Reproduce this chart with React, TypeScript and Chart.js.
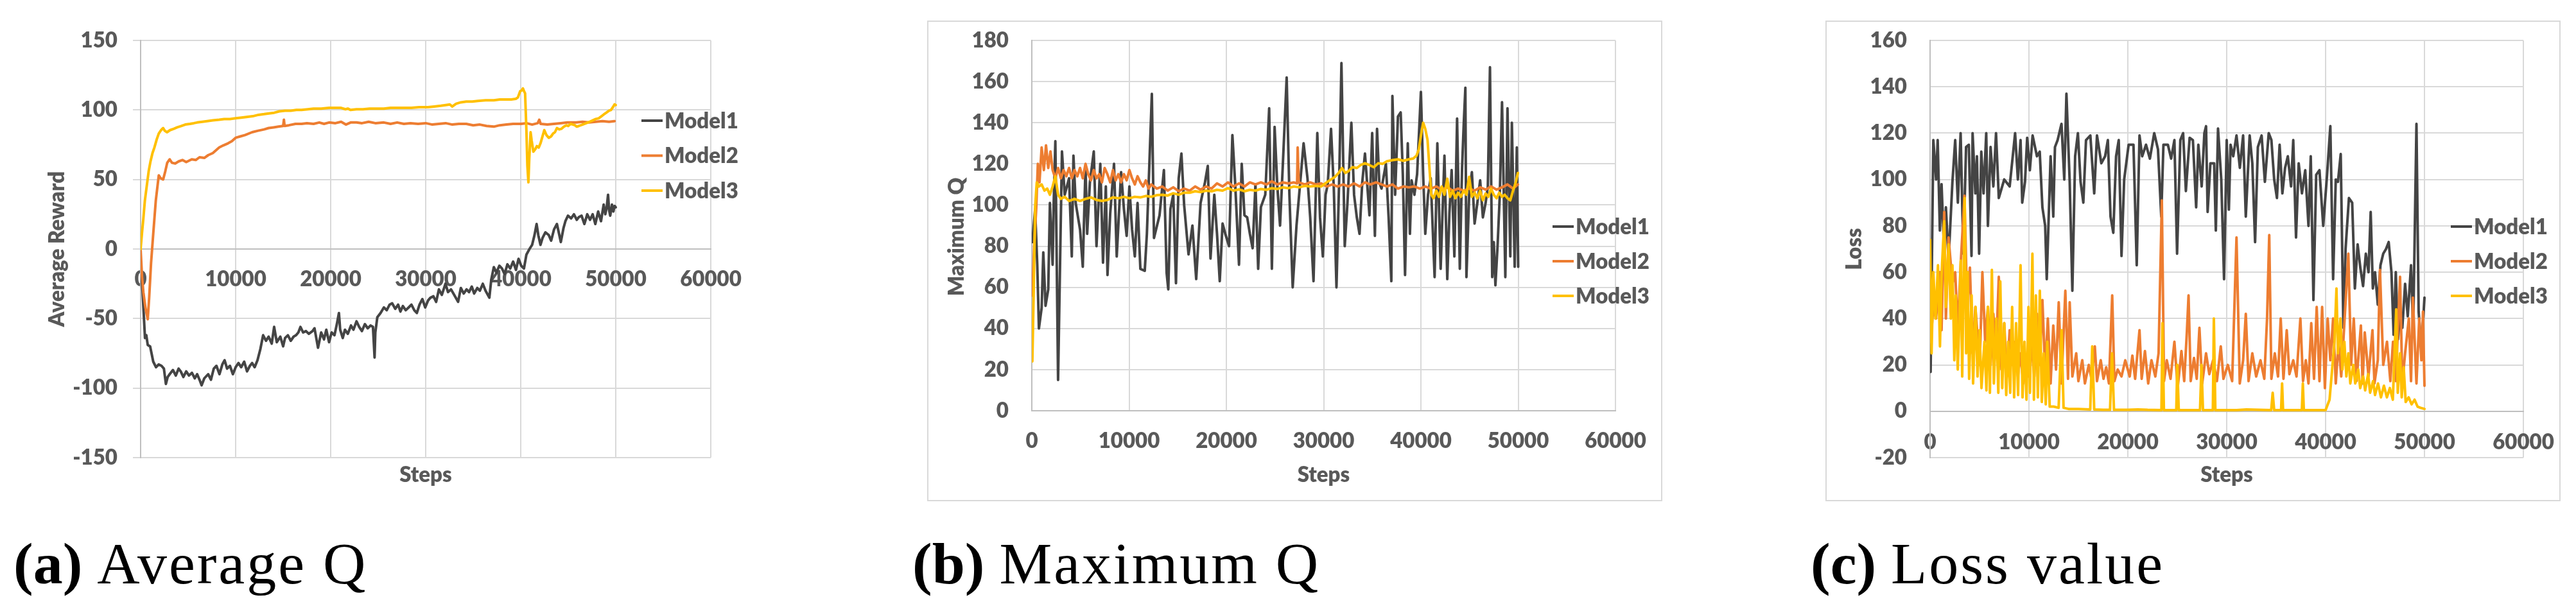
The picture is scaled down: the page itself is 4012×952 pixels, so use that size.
import React, { useEffect, useRef } from 'react';
import { Chart, registerables } from 'chart.js';

Chart.register(...registerables);

type Pt = [number, number];

const SERIES_LABELS = ['Model1', 'Model2', 'Model3'];
const SERIES_COLORS = ['#444444', '#ed7d31', '#ffc000'];
const X_TICK_STEP = 10000;
const X_MAX = 60000;
const TEXT_COLOR = '#595959';
const FONT_FAMILY = 'Lato, "Open Sans", sans-serif';
const FONT_WEIGHT = '800';

// (a) Average Reward
const avgModel1: Pt[] = [[0,-14],[200,-30],[460,-64],[600,-62],[750,-69],[1000,-70],[1330,-81],[1620,-85],[1900,-83],[2200,-84],[2450,-86],[2660,-97],[2850,-92],[3060,-90],[3400,-87],[3700,-91],[4000,-86],[4220,-88],[4500,-92],[4800,-88],[5090,-91],[5400,-89],[5700,-93],[5950,-90],[6200,-94],[6420,-98],[6700,-93],[7110,-90],[7400,-94],[7700,-86],[7980,-84],[8300,-90],[8600,-83],[8840,-80],[9100,-86],[9400,-84],[9710,-90],[10000,-85],[10300,-82],[10580,-85],[10900,-81],[11200,-88],[11500,-84],[11730,-82],[12000,-85],[12300,-80],[12600,-72],[12890,-62],[13200,-66],[13470,-63],[13800,-68],[14050,-56],[14330,-67],[14700,-63],[15000,-70],[15200,-64],[15500,-62],[15800,-66],[16100,-63],[16360,-62],[16600,-60],[16820,-56],[17100,-60],[17400,-59],[17700,-61],[18090,-59],[18300,-57],[18670,-71],[19000,-60],[19300,-65],[19540,-58],[19830,-67],[20100,-60],[20400,-62],[20650,-54],[20870,-46],[21000,-58],[21270,-64],[21500,-58],[21800,-61],[22140,-55],[22400,-58],[22720,-52],[23000,-56],[23290,-59],[23600,-54],[23900,-57],[24200,-55],[24450,-56],[24620,-78],[24700,-60],[24910,-49],[25250,-46],[25600,-42],[25900,-44],[26200,-40],[26470,-39],[26800,-43],[27100,-40],[27340,-45],[27600,-41],[27900,-44],[28210,-42],[28500,-40],[28800,-44],[29070,-46],[29350,-40],[29650,-36],[29950,-42],[30250,-37],[30500,-35],[30810,-34],[31100,-38],[31390,-29],[31700,-33],[32080,-25],[32350,-31],[32660,-29],[33000,-33],[33410,-38],[33700,-28],[34000,-32],[34300,-29],[34560,-31],[34850,-27],[35100,-32],[35430,-28],[35700,-30],[36010,-25],[36300,-30],[36700,-35],[36900,-22],[37170,-13],[37450,-17],[37750,-12],[38030,-14],[38300,-18],[38600,-11],[38900,-14],[39200,-9],[39500,-15],[39770,-7],[40050,-12],[40340,-14],[40600,-4],[40920,0],[41200,3],[41450,10],[41670,18],[41850,10],[42080,3],[42300,8],[42600,12],[42950,10],[43200,6],[43500,14],[43810,18],[44000,12],[44220,5],[44500,15],[44700,20],[44970,24],[45300,22],[45600,25],[45900,21],[46120,23],[46400,24],[46700,18],[47000,25],[47300,21],[47570,25],[47850,18],[48150,27],[48450,20],[48730,32],[48900,25],[49050,30],[49190,39],[49300,28],[49420,24],[49600,32],[49750,27],[49880,31],[50000,30]];

const avgModel2: Pt[] = [[0,0],[150,-20],[290,-31],[500,-42],[750,-50.5],[900,-35],[1100,-10],[1330,11],[1600,35],[1910,53],[2100,51],[2370,50],[2600,56],[2800,62],[3060,64.5],[3300,62],[3640,61.5],[4000,63],[4400,64],[4800,62.5],[5380,64.5],[5800,64],[6200,66],[6700,65.5],[7110,67.5],[7600,69],[8270,73],[8700,74.5],[9200,76],[9600,77.5],[10000,80],[10500,81],[11000,82],[11730,84],[12300,85],[13000,86],[13470,87],[14000,87.5],[14500,88],[15000,88.5],[15080,93],[15150,88.5],[15600,89],[16300,90],[16940,90],[17500,90.5],[18200,90],[18800,91],[19300,90],[19830,91],[20500,90.5],[21100,91.5],[21600,89.5],[22100,91],[22720,91],[23300,90.5],[24000,91.5],[24700,90.5],[25600,91],[26300,90],[27000,91],[27700,90],[28400,90.5],[29200,90],[30000,90.5],[30700,89.5],[31390,90],[32100,90.5],[32800,89.5],[33500,90],[34270,90],[35000,89],[35700,89.5],[36400,88.5],[37170,88],[37800,89],[38500,89.5],[39200,90],[40050,90],[40600,90.5],[41200,89.5],[41790,90.5],[41950,93],[42100,90],[42800,89.5],[43500,90],[44200,90.5],[44900,91],[45840,91],[46500,91.5],[47200,91],[47900,91.5],[48600,92],[49300,91.5],[49880,92]];

const avgModel3: Pt[] = [[0,0],[150,12],[290,22],[450,35],[640,45],[850,56],[1040,63],[1250,69],[1450,73],[1700,79],[1910,83],[2150,85.5],[2370,87],[2550,85],[2780,84],[3100,85.5],[3500,86.5],[3850,87.5],[4220,88.3],[4700,89.5],[5200,90],[5600,90.5],[5950,91],[6500,91.5],[7000,92],[7600,92.5],[8270,93],[8800,93.5],[9400,93.5],[10000,94],[10600,94.5],[11150,95],[11800,95.5],[12400,96.5],[13000,97],[13500,97.5],[14050,98],[14600,99],[15200,99.5],[15800,99.5],[16400,100],[16940,100],[17600,100.5],[18200,101],[19000,101],[19830,101.5],[20500,101.5],[21100,101.5],[21560,100.5],[21800,101],[22100,100],[22720,100.5],[23400,100.5],[24100,101],[24800,101],[25600,101],[26300,101.5],[27000,101.5],[27700,101.5],[28500,101.5],[29300,102],[30230,102],[30900,102.5],[31600,103],[32100,103.5],[32540,104],[32800,102.5],[33200,104.5],[33700,105.5],[34270,106],[34900,106],[35500,106.5],[36300,107],[37170,107],[37800,107.5],[38500,107.5],[39000,107.5],[39480,108],[39700,109],[39940,113.5],[40100,114],[40230,115.5],[40350,113.5],[40460,112],[40600,85],[40700,60],[40810,48],[40900,65],[41040,84],[41150,78],[41330,70],[41550,72],[41700,74],[41900,73],[42080,76],[42250,80],[42480,85.5],[42700,82],[42950,80],[43200,81],[43400,83],[43600,84],[43810,87],[44050,86],[44300,86.5],[44550,88],[44800,89],[45000,88.5],[45250,90],[45500,89.5],[45700,89],[45900,88],[46120,88.5],[46500,89.5],[46900,90.5],[47250,91.5],[47570,92.5],[47900,93.5],[48200,94],[48500,95.5],[48730,96.7],[49000,98],[49300,99.5],[49500,100],[49700,102],[49880,104],[50000,103.5]];

// (b) Maximum Q
const maxModel1: Pt[] = [[56,82],[340,98],[560,71],[730,40],[1010,50],[1180,77],[1410,51],[1690,59],[1860,101],[2140,71],[2250,101],[2420,131],[2700,15],[3100,126],[3380,105],[3830,113],[4110,75],[4280,124],[4510,101],[4960,88],[5240,70],[5520,119],[5690,86],[5970,111],[6370,126],[6650,80],[7040,120],[7320,72],[7610,109],[7780,66],[8060,96],[8450,120],[8730,75],[9180,116],[9470,98],[9750,85],[10030,109],[10310,88],[10590,75],[10870,101],[11160,69],[11610,68],[11830,86],[12340,154],[12560,84],[13130,95],[13580,117],[13860,67],[14030,59],[14250,98],[14540,105],[14820,62],[15100,113],[15380,125],[15660,100],[16110,76],[16510,90],[16900,64],[17350,101],[17800,111],[18090,119],[18370,74],[18760,105],[19040,86],[19320,63],[19610,91],[19890,86],[20280,80],[20620,134],[20900,111],[21300,71],[21580,120],[21860,95],[22140,94],[22420,86],[22700,79],[22990,110],[23270,69],[23550,99],[24000,105],[24400,147],[24680,69],[24960,138],[25240,109],[25520,90],[25800,119],[26200,162],[26480,105],[26820,60],[27210,90],[27610,112],[27940,130],[28340,113],[28620,94],[28960,63],[29350,135],[29630,94],[29920,75],[30200,105],[30420,110],[30760,137],[31040,109],[31320,60],[31610,115],[31830,169],[32170,80],[32450,101],[32850,140],[33130,105],[33410,94],[33690,86],[33970,111],[34250,125],[34710,95],[34990,135],[35270,85],[35490,137],[35720,111],[35950,108],[36400,120],[36680,94],[36960,63],[37070,153],[37350,105],[37640,143],[37920,145],[38140,115],[38370,66],[38650,130],[38870,86],[39040,112],[39330,105],[39610,115],[40000,155],[40230,115],[40450,86],[40730,105],[41010,113],[41410,65],[41690,130],[42030,69],[42420,124],[42710,64],[42930,96],[43160,117],[43440,75],[43720,142],[44000,69],[44230,118],[44400,139],[44570,157],[44680,65],[44960,105],[45240,116],[45520,91],[45800,101],[46090,112],[46370,94],[46650,101],[46880,109],[47100,167],[47330,65],[47490,82],[47660,61],[47890,81],[48110,105],[48340,150],[48680,65],[48900,147],[49190,75],[49350,140],[49640,70],[49860,128],[50000,70]];

const maxModel2: Pt[] = [[56,56],[230,79],[450,98],[620,120],[790,111],[1010,128],[1240,117],[1460,129],[1690,118],[1920,126],[2140,117],[2420,113],[2700,118],[2990,113],[3270,117],[3550,114],[3830,118],[4110,113],[4390,117],[4680,114],[4960,118],[5240,113],[5520,120],[5800,115],[6080,112],[6370,117],[6650,113],[6930,115],[7210,111],[7490,118],[7770,115],[8060,111],[8340,117],[8620,112],[8900,115],[9180,111],[9470,115],[9750,112],[10030,117],[10310,113],[10590,110],[10870,114],[11160,111],[11440,109],[11720,112],[12000,108],[12280,110],[12850,108],[13410,109],[13970,107],[14540,108.6],[15100,106.7],[15660,108],[16230,107],[16790,109],[17350,107.5],[17920,109],[18480,108],[19040,110.5],[19610,109],[20170,111],[20730,109],[21300,110.5],[21860,109],[22420,111],[22990,110],[23550,111],[24110,110],[24680,111.5],[25240,110],[25800,111],[26370,110.5],[26930,111],[27270,110.5],[27330,128],[27440,111],[28060,110],[28620,111],[29180,110],[29750,110.5],[30310,109],[30880,110],[31440,109],[32000,110],[32560,109],[33130,110.5],[33690,109],[34250,111],[34820,110],[35380,111],[35950,110],[36510,109],[37070,110],[37640,108],[38200,109],[38760,108.6],[39330,109],[39890,108],[40450,109],[41010,108],[41580,109],[42140,107.5],[42710,108.6],[43270,107],[43830,108],[44400,107],[44960,108],[45520,107],[46090,108.6],[46650,107.5],[47210,109],[47780,107.5],[48340,108.6],[48900,110],[49470,108],[49970,110]];

const maxModel3: Pt[] = [[56,24],[230,67],[340,99],[510,111],[730,109],[1010,110],[1300,107],[1580,108],[1860,105],[2140,109],[2420,114],[2700,105],[2990,103],[3380,104],[3830,102],[4390,103],[4960,102],[5520,103],[6080,103.7],[6650,102.5],[7210,102],[7770,102.5],[8340,103.7],[8900,103.3],[9470,104],[10030,103.3],[10590,104],[11160,103.7],[11720,104.4],[12280,104],[12850,104.8],[13410,105],[13970,104.6],[14540,105.7],[15100,105],[15660,106],[16230,106],[16790,106.7],[17350,106.3],[17920,107],[18480,106.7],[19040,107.4],[19610,107],[20170,108.2],[20730,107],[21300,107.6],[21860,106.7],[22420,107.4],[22990,107],[23550,107.8],[24110,107.4],[24680,108.2],[25240,107.8],[25800,108.6],[26370,108.2],[26930,109],[27490,108.6],[28060,109.3],[28620,109],[29180,109.3],[29750,109],[30310,111],[30760,112.4],[31160,113.7],[31550,115.6],[31890,118],[32230,115.6],[32560,116.5],[32960,118.4],[33410,118],[33800,119.4],[34250,120.3],[34710,119.4],[35160,118.4],[35610,120.3],[36060,120],[36510,121.3],[37070,121.8],[37640,122.2],[38200,121.5],[38760,122.2],[39210,122.6],[39550,124],[39780,127],[40000,133.6],[40230,140],[40450,137],[40680,131.7],[40900,116.5],[41070,105],[41300,103.3],[41580,107],[41860,104],[42140,109],[42420,105],[42710,112.8],[42990,104],[43270,107],[43550,103.3],[43830,106],[44110,104],[44400,107],[44680,105],[44960,113.7],[45240,104],[45520,106],[45800,103.3],[46090,107],[46370,102.3],[46650,105.6],[46930,104],[47210,108],[47490,105],[47780,103.3],[48060,106],[48340,104],[48620,105],[48900,103.3],[49190,102.3],[49470,107],[49750,111],[49970,115.6]];

// (c) Loss
const lossModel1: Pt[] = [[55,17],[330,117],[610,100],[770,117],[990,78],[1160,98],[1430,68],[1600,88],[1870,65],[2260,99],[2540,117],[2810,90],[3090,120],[3360,68],[3640,114],[3920,115],[4190,67],[4300,120],[4580,94],[4740,110],[4960,68],[5180,112],[5410,94],[5680,120],[5850,80],[6120,114],[6400,97],[6670,120],[6950,92],[7500,100],[8050,97],[8600,120],[8880,100],[9150,117],[9320,90],[9600,99],[9820,118],[10090,104],[10370,119],[10810,110],[11090,112],[11360,88],[11640,80],[11800,57],[12190,110],[12460,84],[12630,114],[12900,117],[13290,124],[13570,100],[13790,137],[14120,99],[14390,52],[14670,110],[14950,120],[15220,99],[15500,90],[15770,117],[16210,119],[16600,94],[16880,119],[17320,107],[17700,110],[17980,117],[18250,84],[18530,77],[18810,110],[19080,117],[19360,67],[19630,100],[20080,115],[20570,115],[20900,63],[21180,119],[21450,110],[21840,115],[22230,109],[22670,120],[23050,113],[23380,84],[23600,115],[24050,115],[24380,109],[24710,117],[24980,68],[25310,117],[25590,120],[25870,95],[26250,118],[26580,117],[26910,88],[27130,115],[27470,97],[27740,120],[27910,123],[28070,86],[28350,107],[28730,107],[28900,78],[29120,122],[29450,100],[29730,57],[30000,117],[30220,87],[30390,115],[30660,110],[30990,119],[31330,105],[31660,119],[31930,84],[32320,119],[32590,107],[32870,73],[33150,114],[33530,119],[33860,99],[34250,120],[34520,117],[34800,100],[35080,92],[35350,115],[35630,94],[35900,105],[36180,110],[36510,97],[36730,117],[37010,75],[37280,107],[37610,94],[37940,104],[38270,80],[38500,110],[38770,48],[39050,102],[39380,104],[39760,80],[40150,102],[40480,123],[40760,57],[41030,100],[41250,99],[41530,111],[41800,36],[42020,70],[42360,92],[42690,90],[42960,53],[43240,72],[43510,62],[43790,54],[44070,68],[44340,60],[44560,86],[44780,53],[45000,60],[45280,46],[45550,63],[45830,68],[46110,70],[46380,73],[46660,60],[46880,33],[47100,60],[47320,31],[47540,43],[47760,36],[48040,55],[48310,41],[48640,63],[48860,35],[49190,124],[49410,43],[49690,26],[50000,49]];

const lossModel2: Pt[] = [[55,30],[330,45],[600,40],[990,60],[1160,35],[1430,86],[1600,40],[1870,75],[2260,55],[2540,60],[2810,35],[3090,63],[3480,93],[3750,45],[4030,62],[4300,25],[4580,45],[5020,20],[5290,60],[5570,30],[5850,45],[6120,20],[6400,42],[6670,25],[6950,58],[7220,18],[7500,38],[7770,15],[8050,35],[8330,20],[8600,30],[8880,15],[9150,25],[9430,12],[9710,22],[9980,15],[10260,28],[10540,15],[10810,42],[11090,20],[11360,48],[11640,17],[11910,40],[12190,12],[12460,37],[12740,18],[13010,47],[13290,12],[13680,52],[13950,14],[14120,47],[14390,15],[14780,25],[15000,13],[15390,22],[15660,12],[16050,20],[16320,14],[16660,28],[16880,13],[17260,22],[17540,14],[17810,19],[18090,12],[18420,50],[18640,13],[18970,18],[19360,15],[19740,22],[20190,15],[20460,24],[20740,14],[21180,35],[21400,14],[21730,26],[22060,12],[22390,22],[22780,15],[23110,25],[23440,91],[23660,13],[23940,22],[24320,14],[24710,30],[25040,10],[25420,26],[25700,13],[25980,35],[26140,50],[26360,13],[26690,23],[26970,14],[27240,36],[27520,12],[27910,25],[28240,16],[28620,22],[29010,13],[29400,28],[29670,14],[30110,20],[30550,13],[30990,75],[31320,12],[31660,22],[31930,42],[32210,13],[32590,25],[32980,15],[33420,22],[33800,14],[34080,40],[34300,76],[34520,14],[34860,25],[35190,15],[35460,40],[35740,14],[36070,35],[36340,16],[36730,22],[37060,15],[37450,40],[37720,13],[38000,22],[38270,12],[38550,38],[38830,14],[39100,45],[39380,13],[39650,45],[39930,10],[40210,40],[40480,22],[40760,40],[41030,12],[41310,30],[41580,15],[41860,35],[42300,68],[42580,20],[42850,40],[43130,13],[43570,37],[43740,12],[43960,34],[44340,15],[44740,35],[44940,12],[45280,22],[45500,61],[45830,20],[46210,30],[46550,13],[46820,30],[47100,13],[47530,58],[47760,12],[48040,25],[48420,40],[48640,13],[48830,49],[49190,12],[49470,40],[49690,22],[49850,43],[50000,11]];

const lossModel3: Pt[] = [[0,74],[150,25],[330,60],[550,40],[800,63],[1000,28],[1150,58],[1430,82],[1600,45],[1870,72],[2100,40],[2260,63],[2450,22],[2600,50],[2800,18],[3000,45],[3100,65],[3250,15],[3500,92],[3650,25],[3800,60],[3950,14],[4200,50],[4350,12],[4600,45],[4800,15],[5000,35],[5200,10],[5500,30],[5700,9],[5850,45],[6050,8],[6250,61],[6450,12],[6700,40],[6900,8],[7100,56],[7300,10],[7500,38],[7700,7],[7900,30],[8100,8],[8300,45],[8500,6],[8700,38],[8900,7],[9150,63],[9350,6],[9550,30],[9750,5],[9950,45],[10100,8],[10350,68],[10500,5],[10700,50],[10900,6],[11100,52],[11300,4],[11500,25],[11700,3],[11850,30],[12100,2],[12500,2],[13000,1.5],[13300,35],[13500,1.5],[14000,1],[15000,1],[16200,0.8],[16400,28],[16600,0.8],[17500,0.6],[18200,0.6],[18400,25],[18600,0.6],[20000,0.6],[21000,0.8],[22000,0.6],[23400,0.5],[23500,38],[23650,0.5],[24900,0.5],[25000,20],[25150,0.5],[27300,0.5],[27450,20],[27600,0.5],[28600,0.5],[28700,40],[28850,0.5],[31000,0.5],[32000,0.8],[34500,0.5],[34650,8],[34800,0.5],[35500,0.5],[35600,12],[35700,0.5],[37600,0.5],[37700,12],[37800,0.5],[40000,0.5],[40400,5],[40700,20],[40900,30],[41100,53],[41250,25],[41500,40],[41700,18],[41900,30],[42100,15],[42300,25],[42500,12],[42800,20],[43000,12],[43300,18],[43500,10],[43800,15],[44000,9],[44300,16],[44500,8],[44800,13],[45000,7],[45300,12],[45600,6],[45900,11],[46200,6],[46500,10],[46800,5],[47140,44],[47300,8],[47530,25],[47700,6],[47900,19],[48100,4],[48400,6],[48700,3],[49000,5],[49300,2],[49600,1.5],[50000,1]];

interface PanelSpec {
  key: string;
  left: number;
  width: number;
  series: Pt[][];
  yMin: number;
  yMax: number;
  yStep: number;
  yTitle: string;
  yWidth: number;
  yTickPad: number;
  tickLen: number;
  yTitlePad: number;
  yTitleAt?: [number, number];
  xTickPad: number;
  padRight: number;
  x2Height: number;
  legend: { x: number; y: number; dy: number };
  frame?: [number, number, number, number];
}

const CANVAS_H = 800;

const panels: PanelSpec[] = [
  {
    key: 'a', left: 0, width: 1340, series: [avgModel1, avgModel2, avgModel3],
    yMin: -150, yMax: 150, yStep: 50, yTitle: 'Average Reward',
    yWidth: 219, yTickPad: 24, tickLen: 12, yTitlePad: 70, xTickPad: 16,
    padRight: 233, x2Height: 87,
    legend: { x: 999, y: 188, dy: 54.5 },
  },
  {
    key: 'b', left: 1340, width: 1340, series: [maxModel1, maxModel2, maxModel3],
    yMin: 0, yMax: 180, yStep: 20, yTitle: 'Maximum Q',
    yWidth: 267, yTickPad: 36, tickLen: 0, yTitlePad: 130, yTitleAt: [150, 369], xTickPad: 28,
    padRight: 164, x2Height: 160,
    legend: { x: 1078, y: 353, dy: 54 },
    frame: [105, 33, 1143, 747],
  },
  {
    key: 'c', left: 2680, width: 1332, series: [lossModel1, lossModel2, lossModel3],
    yMin: -20, yMax: 160, yStep: 20, yTitle: 'Loss',
    yWidth: 326, yTickPad: 36, tickLen: 0, yTitlePad: 189, xTickPad: 29,
    padRight: 82, x2Height: 87,
    legend: { x: 1137, y: 353, dy: 54 },
    frame: [164, 33, 1143, 747],
  },
];

const sideLegend = {
  id: 'sideLegend',
  afterDraw(chart: any, _args: any, opts: any) {
    const { ctx } = chart;
    ctx.save();
    chart.data.datasets.forEach((ds: any, i: number) => {
      const y = opts.y + i * opts.dy;
      ctx.strokeStyle = ds.borderColor;
      ctx.lineWidth = 3.8;
      ctx.lineCap = 'butt';
      ctx.beginPath();
      ctx.moveTo(opts.x, y);
      ctx.lineTo(opts.x + 33, y);
      ctx.stroke();
      ctx.fillStyle = TEXT_COLOR;
      ctx.font = `${FONT_WEIGHT} 33px ${FONT_FAMILY}`;
      ctx.textAlign = 'left';
      ctx.textBaseline = 'middle';
      ctx.fillText(ds.label, opts.x + 36, y + 1);
    });
    ctx.restore();
  },
};

// Draws the outer chart frame and, when a fixed spot is given, the rotated value-axis title.
const framePlugin = {
  id: 'frame',
  beforeDraw(chart: any, _args: any, opts: any) {
    const { ctx } = chart;
    if (opts && opts.rect) {
      const [x, y, w, h] = opts.rect;
      ctx.save();
      ctx.strokeStyle = '#d9d9d9';
      ctx.lineWidth = 2;
      ctx.strokeRect(x, y, w, h);
      ctx.restore();
    }
    if (opts && opts.title) {
      const { text, at } = opts.title;
      ctx.save();
      ctx.translate(at[0], at[1]);
      ctx.rotate(-Math.PI / 2);
      ctx.fillStyle = TEXT_COLOR;
      ctx.font = `${FONT_WEIGHT} 33px ${FONT_FAMILY}`;
      ctx.textAlign = 'center';
      ctx.textBaseline = 'middle';
      ctx.fillText(text, 0, 0);
      ctx.restore();
    }
  },
};

function buildConfig(p: PanelSpec): any {
  const font = { family: FONT_FAMILY, size: 33, weight: FONT_WEIGHT };
  return {
    type: 'line',
    data: {
      datasets: p.series.map((s, i) => ({
        label: SERIES_LABELS[i],
        data: s.map(([x, y]) => ({ x, y })),
        borderColor: SERIES_COLORS[i],
        backgroundColor: SERIES_COLORS[i],
        borderWidth: 4,
        pointRadius: 0,
        tension: 0,
        fill: false,
        order: 2 - i,
        borderJoinStyle: 'round',
        borderCapStyle: 'round',
      })),
    },
    options: {
      responsive: false,
      maintainAspectRatio: false,
      animation: false,
      events: [],
      layout: { padding: { left: 0, top: 63, right: p.padRight, bottom: 0 } },
      plugins: {
        legend: { display: false },
        tooltip: { enabled: false },
        title: { display: false },
        sideLegend: p.legend,
        frame: { rect: p.frame, title: p.yTitleAt ? { text: p.yTitle, at: p.yTitleAt } : null },
      },
      scales: {
        x: {
          type: 'linear',
          position: { y: 0 },
          min: 0,
          max: X_MAX,
          ticks: {
            stepSize: X_TICK_STEP,
            color: TEXT_COLOR,
            font,
            padding: p.xTickPad,
            maxRotation: 0,
            autoSkip: false,
            callback: (v: any) => String(v),
          },
          grid: { color: '#d9d9d9', lineWidth: 2, drawTicks: p.tickLen > 0, tickLength: p.tickLen },
          border: { color: '#bfbfbf', width: 2 },
        },
        x2: {
          type: 'linear',
          position: 'bottom',
          min: 0,
          max: 1,
          ticks: { display: false },
          grid: { display: false, drawTicks: false },
          border: { display: false },
          title: { display: true, text: 'Steps', color: TEXT_COLOR, font, padding: { top: 0, bottom: 40 } },
          afterFit: (s: any) => { s.height = p.x2Height; },
        },
        y: {
          type: 'linear',
          position: 'left',
          min: p.yMin,
          max: p.yMax,
          ticks: {
            stepSize: p.yStep,
            color: TEXT_COLOR,
            font,
            padding: p.yTickPad,
            callback: (v: any) => String(v),
          },
          grid: { color: '#d9d9d9', lineWidth: 2, drawTicks: p.tickLen > 0, tickLength: p.tickLen },
          border: { color: '#bfbfbf', width: 2 },
          title: { display: !p.yTitleAt, text: p.yTitle, color: TEXT_COLOR, font, padding: { top: p.yTitlePad, bottom: 0 } },
          afterFit: (s: any) => { s.width = p.yWidth; },
        },
      },
    },
    plugins: [sideLegend, framePlugin],
  };
}

function Panel({ spec }: { spec: PanelSpec }) {
  const ref = useRef<HTMLCanvasElement | null>(null);
  useEffect(() => {
    if (!ref.current) return;
    const chart = new Chart(ref.current, buildConfig(spec));
    return () => chart.destroy();
  }, [spec]);
  return (
    <canvas
      ref={ref}
      width={spec.width}
      height={CANVAS_H}
      style={{ position: 'absolute', left: spec.left, top: 0, width: spec.width, height: CANVAS_H }}
    />
  );
}

const captionStyle: React.CSSProperties = {
  position: 'absolute',
  top: 832,
  fontFamily: '"Liberation Serif", "Times New Roman", serif',
  fontSize: 92,
  lineHeight: '92px',
  whiteSpace: 'nowrap',
  color: '#000',
};

export default function App() {
  return (
    <div style={{ position: 'absolute', left: 0, top: 0, width: 4012, height: 952, background: '#fff', overflow: 'hidden' }}>
      {panels.map((p) => (
        <Panel key={p.key} spec={p} />
      ))}
      <div style={{ ...captionStyle, left: 21 }}>
        <b>(a)</b> <span style={{ letterSpacing: 3 }}>Average Q</span>
      </div>
      <div style={{ ...captionStyle, left: 1421 }}>
        <b>(b)</b> <span style={{ letterSpacing: 3 }}>Maximum Q</span>
      </div>
      <div style={{ ...captionStyle, left: 2820 }}>
        <b>(c)</b> <span style={{ letterSpacing: 3 }}>Loss value</span>
      </div>
    </div>
  );
}
